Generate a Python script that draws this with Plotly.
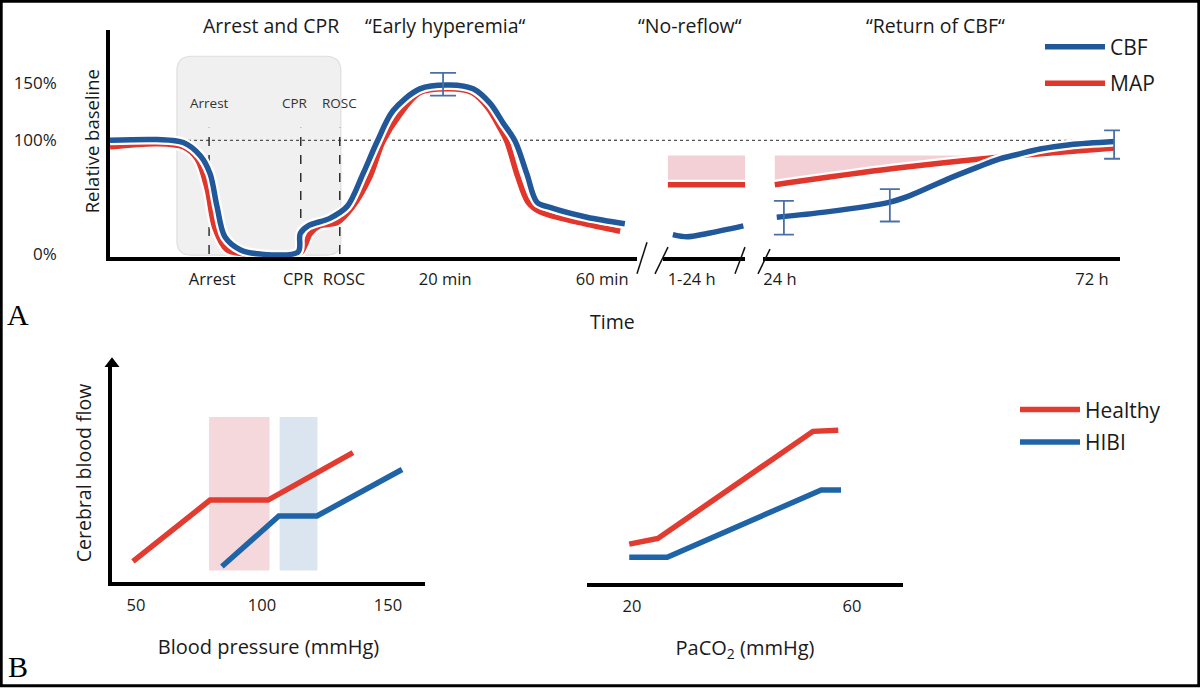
import numpy as np
import plotly.graph_objects as go

# ---------------- DATA ----------------
# Panel A, segment 1 (0-60 min, schematic timeline position 0-100)
seg1_x_cbf = [0, 8.9, 13.9, 17.1, 19.0, 20.3, 21.8, 24.7, 28.5, 35.7, 36.1, 37.6, 41.7, 45.0,
              48.0, 50.7, 53.7, 58.8, 64.5, 68.9, 72.1, 74.6, 76.9, 79.1, 81.0, 83.5, 90.5, 97.7]
seg1_cbf = [100, 100.7, 98.1, 86.7, 70.5, 41.9, 15.2, 3.8, 0, 1.9, 18.1, 24.8, 31.4, 41.9,
            70.5, 99.0, 126, 145.3, 148.7, 145.3, 132.7, 115.3, 99.0, 70.5, 45.7, 41.0, 32.4, 26.7]
seg1_x_map = [0, 8.9, 13.9, 16.5, 18.4, 19.9, 22.2, 26.0, 36.1, 37.0, 38.0, 39.8, 43.1, 46.1,
              49.3, 51.8, 55.0, 58.8, 64.5, 68.7, 71.7, 74.0, 75.3, 77.4, 79.3, 81.6, 89.2, 96.8]
seg1_map = [94.3, 97.1, 94.3, 83.8, 58.1, 22.9, 3.8, 0, 1.0, 7.6, 18.1, 24.8, 27.6, 41.9,
            67.6, 99.0, 122.7, 142, 145.3, 142, 128.7, 110.7, 99.0, 67.6, 45.7, 37.1, 27.6, 20]
events_x = [18.8, 36.2, 43.6]
events = ["Arrest", "CPR", "ROSC"]
seg1_tick_x = [19.4, 35.7, 44.4, 63.6, 93.4]
seg1_tick_text = ["Arrest", "CPR", "ROSC", "20 min", "60 min"]
arrest_window = [12.7, 43.8]
peak_err_x = [63.2]
peak_err_y = [148.7]
peak_err_plus = [10.6]
peak_err_minus = [9.4]

# Segment 2 (1-24 h, schematic position 0-100)
seg2_x_map = [6, 100]
seg2_map = [61, 61]
map_target = 86.7
seg2_x_cbf = [12, 29, 54, 98]
seg2_cbf = [17.1, 15.2, 18.1, 24.8]
seg2_tick_x = [35]
seg2_tick_text = ["1-24 h"]

# Segment 3 (24-72 h, hours)
seg3_x_map = [23.2, 41.4, 56.8, 67.1, 75.5]
seg3_map = [61, 75.2, 84.8, 89.5, 93.3]
seg3_x_cbf = [23.5, 31.2, 40.9, 44.0, 49.7, 54.3, 57.8, 60.5, 64.0, 68.6, 75.5]
seg3_cbf = [32.4, 37.1, 45.7, 51.4, 65.7, 76.2, 83.8, 87.6, 92.4, 96.2, 99.0]
seg3_err_x = [24.6, 40.9, 75.4]
seg3_err_y = [33.1, 45.7, 99.0]
seg3_err_plus = [13.6, 11.4, 9.7]
seg3_err_minus = [16.0, 17.1, 15.2]
seg3_tick_x = [24, 72]
seg3_tick_text = ["24 h", "72 h"]

y_ticks = [0, 100, 150]
y_tick_text = ["0%", "100%", "150%"]

# Panel B left: CBF vs blood pressure
bp_healthy_x = [48.8, 79.4, 102.4, 136.1]
bp_healthy_y = [9.5, 37.6, 37.6, 59.3]
bp_hibi_x = [84.1, 106.7, 121.8, 155.6]
bp_hibi_y = [7.2, 30.3, 30.3, 51.6]
bp_healthy_range = [79, 103]
bp_hibi_range = [107, 122]
band_y = [5.4, 75.6]
bp_ticks = [50, 100, 150]

# Panel B right: CBF vs PaCO2
co2_healthy_x = [19.5, 24.7, 52.9, 57.5]
co2_healthy_y = [17.8, 20.4, 69.2, 69.7]
co2_hibi_x = [19.5, 26.4, 54.4, 58.0]
co2_hibi_y = [11.8, 11.8, 42.5, 42.5]
co2_ticks = [20, 60]

# ---------------- STYLE ----------------
W, H = 1200, 695
def PX(x): return x / W
def PY(y): return 1 - y / H

BLUE = "#21589a"
RED = "#e0362c"
BLUE_B = "#1f64a6"
RED_B = "#e23b30"
ERR = "#4a70a8"
PINK = "#f3d0d5"
FONT = "Open Sans, sans-serif"
TXT = "#1a1a1a"

fig = go.Figure()

def curve(x, y, color, xa, name=None, legend=None, rank=None, spline=True):
    shape = "spline" if spline else "linear"
    fig.add_trace(go.Scatter(x=x, y=y, xaxis=xa, yaxis="y", mode="lines",
                             line=dict(color="white", width=10, shape=shape, smoothing=0.9),
                             showlegend=False, hoverinfo="skip"))
    fig.add_trace(go.Scatter(x=x, y=y, xaxis=xa, yaxis="y", mode="lines",
                             line=dict(color=color, width=5.5, shape=shape, smoothing=0.9),
                             name=name, showlegend=name is not None,
                             legend=legend, legendrank=rank, legendgroup=name))

# pink target band segment 2
fig.add_trace(go.Scatter(x=seg2_x_map, y=[map_target] * len(seg2_x_map), xaxis="x2", yaxis="y",
                         mode="lines", line=dict(width=0), showlegend=False, hoverinfo="skip"))
fig.add_trace(go.Scatter(x=seg2_x_map, y=seg2_map, xaxis="x2", yaxis="y", mode="lines",
                         line=dict(width=0), fill="tonexty", fillcolor=PINK,
                         showlegend=False, hoverinfo="skip"))
# pink target band segment 3 (only where MAP below target)
x_cross = float(np.interp(map_target, seg3_map, seg3_x_map))
band_x = [x for x in seg3_x_map if x < x_cross] + [x_cross]
band_lo = list(np.interp(band_x, seg3_x_map, seg3_map))
fig.add_trace(go.Scatter(x=band_x, y=[map_target] * len(band_x), xaxis="x3", yaxis="y",
                         mode="lines", line=dict(width=0), showlegend=False, hoverinfo="skip"))
fig.add_trace(go.Scatter(x=band_x, y=band_lo, xaxis="x3", yaxis="y", mode="lines",
                         line=dict(width=0), fill="tonexty", fillcolor=PINK,
                         showlegend=False, hoverinfo="skip"))

# event dashed lines
for ex in events_x:
    fig.add_trace(go.Scatter(x=[ex, ex], y=[0, 111], xaxis="x", yaxis="y", mode="lines",
                             line=dict(color="#222", width=1.4, dash="dash"),
                             showlegend=False, hoverinfo="skip"))

# MAP then CBF
curve(seg1_x_map, seg1_map, RED, "x", name="MAP", legend="legend", rank=2)
curve(seg2_x_map, seg2_map, RED, "x2", spline=False)
curve(seg3_x_map, seg3_map, RED, "x3")
curve(seg1_x_cbf, seg1_cbf, BLUE, "x", name="CBF", legend="legend", rank=1)
curve(seg2_x_cbf, seg2_cbf, BLUE, "x2")
curve(seg3_x_cbf, seg3_cbf, BLUE, "x3")

# error bars
fig.add_trace(go.Scatter(x=peak_err_x, y=peak_err_y, xaxis="x", yaxis="y", mode="markers",
                         marker=dict(size=1, opacity=0), showlegend=False, hoverinfo="skip",
                         error_y=dict(type="data", array=peak_err_plus, arrayminus=peak_err_minus,
                                      color=ERR, thickness=1.8, width=13)))
fig.add_trace(go.Scatter(x=seg3_err_x, y=seg3_err_y, xaxis="x3", yaxis="y", mode="markers",
                         marker=dict(size=1, opacity=0), showlegend=False, hoverinfo="skip",
                         cliponaxis=False,
                         error_y=dict(type="data", array=seg3_err_plus, arrayminus=seg3_err_minus,
                                      color=ERR, thickness=1.8, width=10)))

# Panel B left
fig.add_trace(go.Scatter(x=bp_healthy_x, y=bp_healthy_y, xaxis="x4", yaxis="y4", mode="lines",
                         line=dict(color=RED_B, width=5.5), name="Healthy", legend="legend2"))
fig.add_trace(go.Scatter(x=bp_hibi_x, y=bp_hibi_y, xaxis="x4", yaxis="y4", mode="lines",
                         line=dict(color=BLUE_B, width=5.5), name="HIBI", legend="legend2",
                         legendgroup="hibi"))
# arrow head on the CBF axis
fig.add_trace(go.Scatter(x=[40.48], y=[100], xaxis="x4", yaxis="y4", mode="markers",
                         marker=dict(symbol="triangle-up", size=13, color="black"),
                         cliponaxis=False, showlegend=False, hoverinfo="skip"))
# Panel B right
fig.add_trace(go.Scatter(x=co2_healthy_x, y=co2_healthy_y, xaxis="x5", yaxis="y5", mode="lines",
                         line=dict(color=RED_B, width=5.5), showlegend=False))
fig.add_trace(go.Scatter(x=co2_hibi_x, y=co2_hibi_y, xaxis="x5", yaxis="y5", mode="lines",
                         line=dict(color=BLUE_B, width=5.5), showlegend=False))

# ---------------- SHAPES ----------------
shapes = []
# 100% dotted baseline across the whole panel
shapes.append(dict(type="line", xref="paper", yref="y", x0=PX(110), x1=PX(1118), y0=100, y1=100,
                   layer="below", line=dict(color="#555", width=1.2, dash="dot")))
# rounded grey arrest/CPR box
x0, x1 = arrest_window
y0, y1 = -1, 174
rx, ry = 2.85, 13
path = (f"M{x0+rx},{y0} L{x1-rx},{y0} Q{x1},{y0} {x1},{y0+ry} L{x1},{y1-ry} "
        f"Q{x1},{y1} {x1-rx},{y1} L{x0+rx},{y1} Q{x0},{y1} {x0},{y1-ry} "
        f"L{x0},{y0+ry} Q{x0},{y0} {x0+rx},{y0} Z")
shapes.append(dict(type="path", path=path, xref="x", yref="y", layer="below",
                   fillcolor="#f0f0f0", line=dict(color="#dedede", width=1.2)))
# dotted baseline again inside segment 1 (above the grey box)
shapes.append(dict(type="line", xref="x", yref="y", x0=0, x1=100, y0=100, y1=100,
                   layer="below", line=dict(color="#555", width=1.2, dash="dot")))
# axis breaks
for (xa, ya, xb, yb) in [(637, 277, 647, 245), (655, 277, 668, 250),
                         (735, 277, 745, 250), (758, 277, 770, 252)]:
    shapes.append(dict(type="line", xref="paper", yref="paper", x0=PX(xa), y0=PY(ya),
                       x1=PX(xb), y1=PY(yb), line=dict(color="#111", width=1.5)))
# B bands
shapes.append(dict(type="rect", xref="x4", yref="y4", x0=bp_healthy_range[0], x1=bp_healthy_range[1],
                   y0=band_y[0], y1=band_y[1], fillcolor="#f5d8dc", line=dict(width=0), layer="below"))
shapes.append(dict(type="rect", xref="x4", yref="y4", x0=bp_hibi_range[0], x1=bp_hibi_range[1],
                   y0=band_y[0], y1=band_y[1], fillcolor="#dbe5ef", line=dict(width=0), layer="below"))
# frame
shapes.append(dict(type="rect", xref="paper", yref="paper", x0=0.001, x1=0.999, y0=0.002, y1=0.998,
                   line=dict(color="black", width=3)))

# ---------------- ANNOTATIONS ----------------
ann = []
def text(x, y, s, size=17, family=FONT, color=TXT, **kw):
    d = dict(x=PX(x), y=PY(y), xref="paper", yref="paper", text=s, showarrow=False,
             font=dict(family=family, size=size, color=color), xanchor="center", yanchor="middle")
    d.update(kw)
    ann.append(d)

text(271, 26, "Arrest and CPR", 19.5)
text(445, 26, "\u201cEarly hyperemia\u201c", 19.5)
text(690, 26, "\u201cNo-reflow\u201c", 19.5)
text(935, 26, "\u201cReturn of CBF\u201c", 19.5)
text(612, 325, "Time", 19.5)
text(91, 143, "Relative baseline", 18.5, textangle=-90)
text(18, 318, "A", 30, family="Liberation Serif, serif", color="black")
text(18, 674, "B", 30, family="Liberation Serif, serif", color="black")
shifts = [0, -6, 0]
for ex, ev, sh in zip(events_x, events, shifts):
    ann.append(dict(x=ex, y=132.7, xref="x", yref="y", text=ev, showarrow=False, xshift=sh,
                    font=dict(family=FONT, size=13.5, color="#333")))

# ---------------- LAYOUT ----------------
xa_common = dict(showgrid=False, zeroline=False, showline=True, linecolor="black", linewidth=3.5,
                 ticks="", tickfont=dict(family=FONT, size=16.5, color=TXT), fixedrange=True)

fig.update_layout(
    width=W, height=H, margin=dict(l=0, r=0, t=0, b=0),
    paper_bgcolor="white", plot_bgcolor="rgba(0,0,0,0)",
    font=dict(family=FONT, color=TXT),
    shapes=shapes, annotations=ann,
    xaxis=dict(domain=[PX(110), PX(637)], range=[0, 100], anchor="y",
               tickvals=seg1_tick_x, ticktext=seg1_tick_text, ticklabelstandoff=4, **xa_common),
    xaxis2=dict(domain=[PX(663), PX(745)], range=[0, 100], anchor="y",
                tickvals=seg2_tick_x, ticktext=seg2_tick_text, ticklabelstandoff=4, **xa_common),
    xaxis3=dict(domain=[PX(763), PX(1120)], range=[24 + (763 - 780) / 6.5, 24 + (1120 - 780) / 6.5],
                anchor="y", tickvals=seg3_tick_x, ticktext=seg3_tick_text, ticklabelstandoff=4,
                **xa_common),
    yaxis=dict(domain=[PY(260), PY(30)], range=[-2.61, 197.39], anchor="x",
               showgrid=False, zeroline=False, showline=True, linecolor="black", linewidth=3.5,
               ticks="", tickvals=y_ticks, ticktext=y_tick_text, ticklabelstandoff=46,
               tickfont=dict(family=FONT, size=17, color=TXT), fixedrange=True),
    xaxis4=dict(domain=[PX(112), PX(425)], range=[40.48, 164.7], anchor="y4",
                tickvals=bp_ticks, title=dict(text="Blood pressure (mmHg)", standoff=26,
                                              font=dict(family=FONT, size=20, color=TXT)),
                ticklabelstandoff=5, **xa_common),
    yaxis4=dict(domain=[PY(589), PY(368)], range=[0, 100], anchor="x4", showgrid=False,
                zeroline=False, showline=True, linecolor="black", linewidth=3.5,
                showticklabels=False, ticks="",
                title=dict(text="Cerebral blood flow", standoff=12,
                           font=dict(family=FONT, size=19.5, color=TXT)), fixedrange=True),
    xaxis5=dict(domain=[PX(587), PX(903)], range=[11.82, 69.27], anchor="y5",
                tickvals=co2_ticks, title=dict(text="PaCO<sub>2</sub> (mmHg)", standoff=26,
                                               font=dict(family=FONT, size=20, color=TXT)),
                ticklabelstandoff=5, **xa_common),
    yaxis5=dict(domain=[PY(590), PY(368)], range=[0, 100], anchor="x5", visible=False,
                fixedrange=True),
    legend=dict(x=PX(1040), y=PY(27), xanchor="left", yanchor="top", bgcolor="rgba(0,0,0,0)",
                font=dict(family=FONT, size=21, color=TXT), tracegroupgap=6, itemwidth=60),
    legend2=dict(x=PX(1015), y=PY(394), xanchor="left", yanchor="top", bgcolor="rgba(0,0,0,0)",
                 font=dict(family=FONT, size=21, color=TXT), tracegroupgap=2, itemwidth=60),
)

fig.write_html("out.html", config={"displayModeBar": False},
               post_script="document.body.style.margin='0';")
